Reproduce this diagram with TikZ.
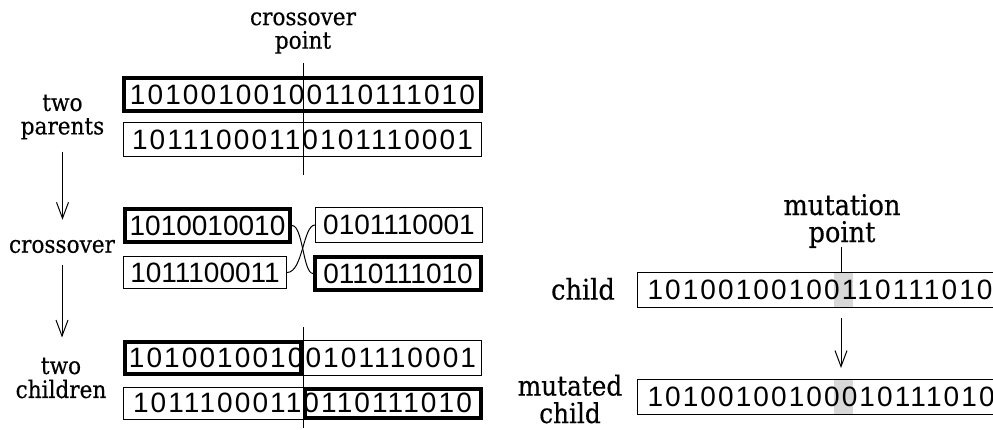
\documentclass[tikz,border=0pt]{standalone}
\usepackage{fontspec}
\setmainfont{DejaVu Serif}[FakeStretch=0.9,FakeBold=0.4]
\newfontfamily\bitswide[LetterSpace=7.5]{Liberation Sans}
\newfontfamily\bitsnarrow{Liberation Sans}
\usetikzlibrary{arrows.meta}
\definecolor{hlgrey}{RGB}{216,216,216}
\tikzset{
  lbl/.style={inner sep=0pt, align=center, font=\fontsize{24}{23.5}\selectfont},
  lblbig/.style={inner sep=0pt, align=center, font=\fontsize{28.5}{27}\selectfont},
  thinbox/.style={draw, line width=1pt, inner sep=0pt},
  thickbox/.style={draw, line width=4pt, inner sep=0pt},
  widebits/.style={font=\bitswide\fontsize{28}{30}\selectfont},
  narrowbits/.style={font=\bitsnarrow\fontsize{28}{30}\selectfont},
  conn/.style={line width=1pt},
  arr/.style={line width=1pt, -{Straight Barb[length=16pt,width=12pt]}},
}
\begin{document}
\begin{tikzpicture}[x=1pt,y=-1pt]
\useasboundingbox (0,0) rectangle (993,430);
\clip (0,0) rectangle (993,430);

% labels
\node[lbl] (cpt) at (303,33) {crossover\\point};
\node[lbl] (par) at (62.5,117) {two\\parents};
\node[lbl] (xo) at (62,246.5) {crossover};
\node[lbl, font=\fontsize{24}{24}\selectfont] (ch) at (61,378) {two\\children};
\node[lblbig] (mpt) at (842,221) {mutation\\point};
\node[lblbig] (chl) at (583,289) {child};
\node[lblbig, font=\fontsize{27.5}{27.5}\selectfont] (mch) at (570,399) {mutated\\child};

% parents
\node[thickbox, widebits, minimum width=357pt, minimum height=33pt] (p1) at (302.5,94.5) {10100100100110111010};
\node[thinbox, widebits, minimum width=358pt, minimum height=34pt] (p2) at (302.5,140) {10111000110101110001};

% crossover
\node[thickbox, narrowbits, minimum width=165pt, minimum height=33pt] (xa) at (207.5,225.5) {1010010010};
\node[thinbox, narrowbits, minimum width=163pt, minimum height=32pt] (xb) at (205,272.5) {1011100011};
\node[thinbox, narrowbits, minimum width=167pt, minimum height=35pt] (xc) at (399,225) {0101110001};
\node[thickbox, narrowbits, minimum width=166pt, minimum height=33pt] (xd) at (398,273.5) {0110111010};
\draw[conn] (xa.east) .. controls (303,225.5) and (303,273.5) .. (xd.west);
\draw[conn] (xb.east) .. controls (303,272.5) and (303,225) .. (xc.west);

% children
\node[widebits, inner sep=0pt] (c1) at (302.5,358) {10100100100101110001};
\node[widebits, inner sep=0pt] (c2) at (302.5,403) {10111000110110111010};
\draw[line width=1pt] (303.5,340.5) rectangle (481.5,375);
\draw[line width=1pt] (123.5,387.5) rectangle (303,419);
\draw[line width=4pt] (125,342) rectangle (301,374);
\draw[line width=4pt] (305,389) rectangle (481,418);

% crossover point lines
\coordinate (cxtop) at (303,63);
\coordinate (cxbot) at (303,175);
\draw[conn] (cxtop) -- (cxbot);
\coordinate (cctop) at (303,327);
\coordinate (ccbot) at (303,428);
\draw[conn] (cctop) -- (ccbot);

% left arrows
\draw[arr, shorten <=12pt, shorten >=20pt] (par.south) -- (par.south |- xo.north);
\draw[arr, shorten <=12pt, shorten >=20pt] (xo.south) -- (xo.south |- ch.north);

% mutation
\fill[hlgrey] (834,272.5) rectangle (853,307.5);
\fill[hlgrey] (834,379.5) rectangle (853,414.5);
\node[thinbox, widebits, anchor=west, minimum height=35pt, inner xsep=10pt] (kid) at (637,290) {10100100100110111010};
\node[thinbox, widebits, anchor=west, minimum height=35pt, inner xsep=10pt] (mkid) at (637,397) {10100100100010111010};
\coordinate (mtop) at (841,247);
\draw[conn] (mtop) -- (mtop |- kid.north);
\draw[arr, shorten <=10pt, shorten >=11pt] (mtop |- kid.south) -- (mtop |- mkid.north);
\end{tikzpicture}
\end{document}
